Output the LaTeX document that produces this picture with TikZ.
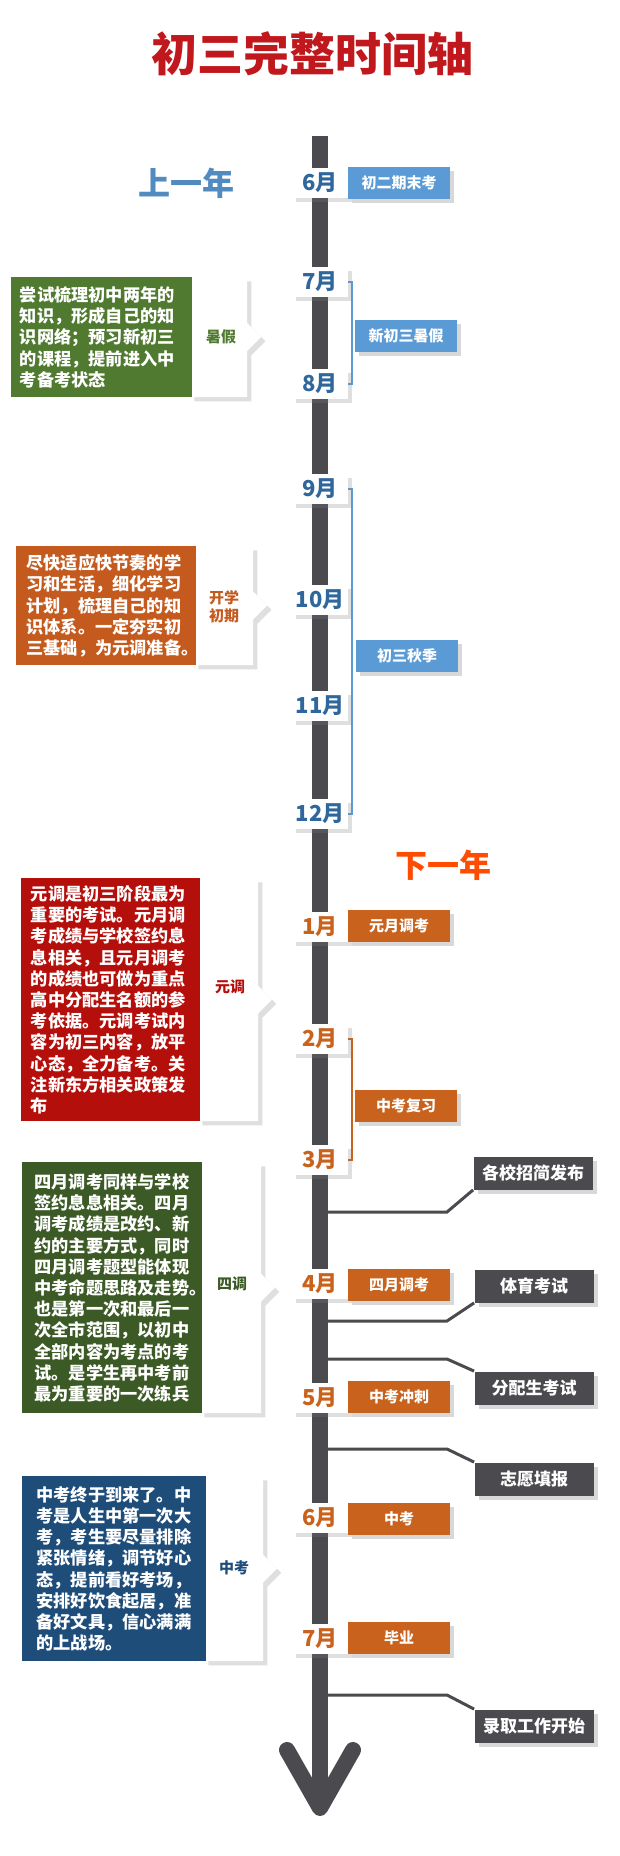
\documentclass[tikz,border=0pt]{standalone}
\usepackage{fontspec}
\newfontfamily\cjk{Noto Sans CJK SC}
\usetikzlibrary{shadows}
\definecolor{axisgray}{HTML}{4A4A4F}
\definecolor{monthblue}{HTML}{2F669C}
\definecolor{tagblue}{HTML}{5B9BD5}
\definecolor{tagorange}{HTML}{C8621C}
\definecolor{titlered}{HTML}{C0181C}
\definecolor{boxgreen}{HTML}{4F7A30}
\definecolor{boxorange}{HTML}{C45A1E}
\definecolor{boxred}{HTML}{B50F0C}
\definecolor{boxdkgreen}{HTML}{3C5A26}
\definecolor{boxblue}{HTML}{1F4D7A}
\tikzset{
  month/.style={fill=white,drop shadow={opacity=0.25},minimum width=28pt,minimum height=15pt,inner sep=0pt,font=\cjk\bfseries\fontsize{11}{11}\selectfont},
  tag/.style={fill=#1,drop shadow={opacity=0.3},text=white,minimum width=51pt,minimum height=16pt,inner sep=0pt,font=\cjk\bfseries\fontsize{7.5}{8}\selectfont},
  event/.style={tag=axisgray,minimum width=59.5pt,minimum height=16.5pt,font=\cjk\bfseries\fontsize{8.5}{9}\selectfont},
  note/.style={fill=#1,text=white,anchor=north west,align=left,inner sep=0pt,font=\cjk\bfseries\fontsize{8.6}{10.6}\selectfont},
  tablabel/.style={font=\cjk\bfseries\fontsize{7.5}{9}\selectfont,align=center},
  link/.style={axisgray,line width=1.5pt},
  brace/.style={#1,line width=1pt}
}
\newcommand{\pointer}[4]{% x0, top, bottom, tip
  \fill[white,drop shadow={opacity=0.25}] (#1,#2) -- (#4-14,#2) -- (#4-14,{(#2+#3)/2-14}) -- (#4,{(#2+#3)/2}) -- (#4-14,{(#2+#3)/2+14}) -- (#4-14,#3) -- (#1,#3) -- cycle;}
\begin{document}
\begin{tikzpicture}[x=0.5pt,y=-0.5pt]
\useasboundingbox[fill=white] (0,0) rectangle (620,1856);
% title
\node[text=titlered,font=\cjk\bfseries\fontsize{23}{23}\selectfont] (title) at (312,54) {初三完整时间轴};
\node[text=tagblue!90!black,font=\cjk\bfseries\fontsize{16}{16}\selectfont] (lastyear) at (186,183) {上一年};
\node[text=orange!60!red,font=\cjk\bfseries\fontsize{16}{16}\selectfont] (nextyear) at (443,865) {下一年};

% axis
\draw[axisgray,line width=8pt] (320,136) -- (320,1806);
\draw[axisgray,line width=8pt,line cap=round,line join=round] (287,1750) -- (320,1808) -- (353,1750);

% left notes
\pointer{190}{277}{397}{261}
\node[note=boxgreen,minimum width=90.5pt,minimum height=60pt,text width=86pt] (n1) at (11,277) {\hspace*{2pt}尝试梳理初中两年的\\\hspace*{2pt}知识，形成自己的知\\\hspace*{2pt}识网络；预习新初三\\\hspace*{2pt}的课程，提前进入中\\\hspace*{2pt}考备考状态};
\node[tablabel,text=boxgreen] (t1) at (221,337) {暑假};

\pointer{194}{546}{665}{267}
\node[note=boxorange,minimum width=90pt,minimum height=59.5pt,text width=86pt] (n2) at (16,546) {\hspace*{3pt}尽快适应快节奏的学\\\hspace*{3pt}习和生活，细化学习\\\hspace*{3pt}计划，梳理自己的知\\\hspace*{3pt}识体系。一定夯实初\\\hspace*{3pt}三基础，为元调准备。};
\node[tablabel,text=boxorange] (t2) at (224,607) {开学\\初期};

\pointer{198}{878}{1121}{272}
\node[note=boxred,minimum width=89.5pt,minimum height=121.5pt,text width=86pt] (n3) at (21,878) {\hspace*{3pt}元调是初三阶段最为\\\hspace*{3pt}重要的考试。元月调\\\hspace*{3pt}考成绩与学校签约息\\\hspace*{3pt}息相关，且元月调考\\\hspace*{3pt}的成绩也可做为重点\\\hspace*{3pt}高中分配生名额的参\\\hspace*{3pt}考依据。元调考试内\\\hspace*{3pt}容为初三内容，放平\\\hspace*{3pt}心态，全力备考。关\\\hspace*{3pt}注新东方相关政策发\\\hspace*{3pt}布};
\node[tablabel,text=boxred] (t3) at (230,987) {元调};

\pointer{200}{1162}{1413}{275}
\node[note=boxdkgreen,minimum width=90pt,minimum height=125.5pt,text width=86pt] (n4) at (22,1162) {\hspace*{4pt}四月调考同样与学校\\\hspace*{4pt}签约息息相关。四月\\\hspace*{4pt}调考成绩是改约、新\\\hspace*{4pt}约的主要方式，同时\\\hspace*{4pt}四月调考题型能体现\\\hspace*{4pt}中考命题思路及走势。\\\hspace*{4pt}也是第一次和最后一\\\hspace*{4pt}次全市范围，以初中\\\hspace*{4pt}全部内容为考点的考\\\hspace*{4pt}试。是学生再中考前\\\hspace*{4pt}最为重要的一次练兵};
\node[tablabel,text=boxdkgreen] (t4) at (232,1284) {四调};

\pointer{204}{1476}{1661}{277}
\node[note=boxblue,minimum width=92pt,minimum height=92.5pt,text width=88pt] (n5) at (22,1476) {\hspace*{5pt}中考终于到来了。中\\\hspace*{5pt}考是人生中第一次大\\\hspace*{5pt}考，考生要尽量排除\\\hspace*{5pt}紧张情绪，调节好心\\\hspace*{5pt}态，提前看好考场，\\\hspace*{5pt}安排好饮食起居，准\\\hspace*{5pt}备好文具，信心满满\\\hspace*{5pt}的上战场。};
\node[tablabel,text=boxblue] (t5) at (234,1568) {中考};

% brackets
\draw[brace=tagblue] (340,282) -- (352,282) -- (352,384) -- (340,384);
\draw[brace=tagblue] (340,489) -- (352,489) -- (352,814) -- (340,814);
\draw[brace=tagorange] (340,1039) -- (352,1039) -- (352,1160) -- (340,1160);

% months
\node[month,text=monthblue] (a6) at (320,183) {6月};
\node[month,text=monthblue] (a7) at (320,282) {7月};
\node[month,text=monthblue] (a8) at (320,384) {8月};
\node[month,text=monthblue] (a9) at (320,489) {9月};
\node[month,text=monthblue] (a10) at (320,600) {10月};
\node[month,text=monthblue] (a11) at (320,706) {11月};
\node[month,text=monthblue] (a12) at (320,814) {12月};
\node[month,text=tagorange] (b1) at (320,927) {1月};
\node[month,text=tagorange] (b2) at (320,1039) {2月};
\node[month,text=tagorange] (b3) at (320,1160) {3月};
\node[month,text=tagorange] (b4) at (320,1284) {4月};
\node[month,text=tagorange] (b5) at (320,1398) {5月};
\node[month,text=tagorange] (b6) at (320,1518) {6月};
\node[month,text=tagorange] (b7) at (320,1639) {7月};

% period tags
\node[tag=tagblue] (p1) at (399,183) {初二期末考};
\node[tag=tagblue] (p2) at (406,336) {新初三暑假};
\node[tag=tagblue] (p3) at (407,656) {初三秋季};
\node[tag=tagorange] (p4) at (399,926) {元月调考};
\node[tag=tagorange] (p5) at (406,1106) {中考复习};
\node[tag=tagorange] (p6) at (399,1285) {四月调考};
\node[tag=tagorange] (p7) at (399,1397) {中考冲刺};
\node[tag=tagorange] (p8) at (399,1519) {中考};
\node[tag=tagorange] (p9) at (399,1638) {毕业};

% events
\node[event] (e1) at (533,1173) {各校招简发布};
\node[event] (e2) at (534,1286) {体育考试};
\node[event] (e3) at (534,1388) {分配生考试};
\node[event] (e4) at (534,1479) {志愿填报};
\node[event] (e5) at (534,1726) {录取工作开始};
\coordinate (c1) at (324,1212);
\coordinate (c2) at (324,1321);
\coordinate (c3) at (324,1359);
\coordinate (c4) at (324,1449);
\coordinate (c5) at (324,1695);
\draw[link] (c1) -- (447,1212) -- (e1.south west);
\draw[link] (c2) -- (447,1321) -- (e2.south west);
\draw[link] (c3) -- (447,1359) -- (e3.north west);
\draw[link] (c4) -- (447,1449) -- (e4.north west);
\draw[link] (c5) -- (447,1695) -- (e5.north west);
\end{tikzpicture}
\end{document}
